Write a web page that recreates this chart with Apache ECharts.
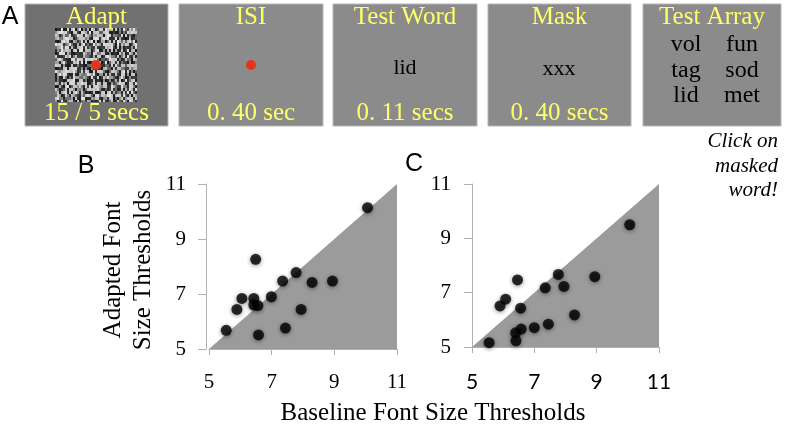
<!DOCTYPE html>
<html>
<head>
<meta charset="utf-8">
<script src="https://cdn.jsdelivr.net/npm/echarts@6/dist/echarts.min.js"></script>
<style>
html,body{margin:0;padding:0;background:#fff;}
#chart{width:790px;height:433px;}
</style>
</head>
<body>
<div id="chart"></div>
<script>
// ---- Data ----
var tickValues = [5, 7, 9, 11];
var baselineB = [10.06, 6.49, 7.78, 7.35, 8.29, 8.94, 6.05, 6.43, 6.99, 5.89, 6.43, 6.56, 7.94, 5.55, 7.44, 6.58];
var adaptedB  = [10.14, 8.26, 7.78, 7.47, 7.42, 7.47, 6.84, 6.84, 6.90, 6.44, 6.60, 6.58, 6.44, 5.68, 5.76, 5.51];
var baselineC = [10.06, 6.46, 7.77, 8.94, 7.35, 7.95, 6.08, 5.90, 6.56, 8.29, 7.45, 7.00, 6.58, 6.40, 6.41, 5.55];
var adaptedC  = [9.50, 7.47, 7.67, 7.59, 7.18, 7.23, 6.76, 6.51, 6.43, 6.18, 5.84, 5.71, 5.66, 5.52, 5.23, 5.16];
var diagonal = [[5, 5], [11, 11]];
var panelTitles = ['Adapt', 'ISI', 'Test Word', 'Mask', 'Test Array'];
var panelTimes = ['15 / 5 secs', '0. 40 sec', '0. 11 secs', '0. 40 secs', ''];
var arrayWords = [['vol', 'fun'], ['tag', 'sod'], ['lid', 'met']];

function pairs(xs, ys) { return xs.map(function (x, i) { return [x, ys[i]]; }); }

// ---- noise texture (decoration only) ----
function makeNoise(w, h) {
  var c = document.createElement('canvas');
  c.width = w; c.height = h;
  var ctx = c.getContext('2d');
  for (var j = 0; j < h; j += 3) {
    for (var i = 0; i < w; i += 2) {
      var n = Math.imul(i * 73856093 ^ j * 19349663, 0x5bd1e995);
      n = (n ^ (n >>> 15)) >>> 0;
      var v = n % 100;
      var g = v < 38 ? 25 + (v % 5) * 10 : (v < 70 ? 225 - (v % 5) * 8 : 100 + (v % 9) * 12);
      ctx.fillStyle = 'rgb(' + g + ',' + g + ',' + g + ')';
      ctx.fillRect(i, j, 2, 3);
    }
  }
  return c.toDataURL();
}

var serif = '"Liberation Serif", "Times New Roman", serif';
var sans = '"Liberation Sans", Arial, sans-serif';
var yellow = '#ffff66';

function txt(x, y, s, size, opts) {
  opts = opts || {};
  return {
    type: 'text', x: x, y: y, rotation: opts.rotation || 0, z: 10,
    style: {
      text: s, fill: opts.color || '#000',
      fontSize: size, fontFamily: opts.family || serif, fontStyle: opts.style || 'normal',
      align: opts.align || 'center', textAlign: opts.align || 'center',
      verticalAlign: 'middle', textVerticalAlign: 'middle',
      lineHeight: opts.lineHeight || size * 1.2
    }
  };
}

var boxX = [25, 179, 333, 488, 643];
var boxW = [143, 144, 144, 143, 138];
var graphics = [];
boxX.forEach(function (x, k) {
  graphics.push({
    type: 'rect', shape: { x: x, y: 4, width: boxW[k], height: 122 }, z: 1,
    style: { fill: k === 0 ? '#717171' : '#8b8b8b', stroke: '#b5b5b5', lineWidth: 1 }
  });
  var cx = x + boxW[k] / 2;
  graphics.push(txt(cx, 17, panelTitles[k], 25, { color: yellow }));
  if (panelTimes[k]) graphics.push(txt(cx, 113, panelTimes[k], 25, { color: yellow }));
});
graphics.push({ type: 'image', x: 55, y: 28, z: 2, style: { image: makeNoise(82, 74), x: 0, y: 0, width: 82, height: 74 } });
graphics.push({ type: 'circle', shape: { cx: 96, cy: 65, r: 5 }, z: 3, style: { fill: '#e2361a' } });
graphics.push({ type: 'circle', shape: { cx: 251, cy: 65, r: 5 }, z: 3, style: { fill: '#e2361a' } });
graphics.push(txt(405, 68, 'lid', 22));
graphics.push(txt(559, 69, 'xxx', 22));
arrayWords.forEach(function (row, r) {
  graphics.push(txt(686, 45 + r * 25.5, row[0], 24));
  graphics.push(txt(742, 45 + r * 25.5, row[1], 24));
});
graphics.push(txt(778, 141, 'Click on', 21, { align: 'right', style: 'italic' }));
graphics.push(txt(778, 166, 'masked', 21, { align: 'right', style: 'italic' }));
graphics.push(txt(778, 190, 'word!', 21, { align: 'right', style: 'italic' }));
graphics.push(txt(10, 17, 'A', 25, { family: sans }));
graphics.push(txt(86, 166, 'B', 25, { family: sans }));
graphics.push(txt(414, 164, 'C', 25, { family: sans }));
graphics.push(txt(433, 413, 'Baseline Font Size Thresholds', 25));
graphics.push(txt(128, 270, 'Adapted Font\nSize Thresholds', 25, { rotation: Math.PI / 2, lineHeight: 30 }));

function fmt(v) { return tickValues.indexOf(v) >= 0 ? String(v) : ''; }
function xAxis(idx, family, size, margin) {
  return {
    type: 'value', gridIndex: idx, min: 5, max: 11, interval: 2,
    axisLine: { show: true, lineStyle: { color: '#b0b0b0', width: 1 } },
    axisTick: { show: true, inside: false, length: 6, lineStyle: { color: '#b0b0b0' } },
    splitLine: { show: false },
    axisLabel: { fontSize: size, fontFamily: family, color: '#000', margin: margin, formatter: fmt }
  };
}
function yAxis(idx, margin, offset) {
  return {
    type: 'value', gridIndex: idx, min: 5, max: 11, interval: 2, offset: offset,
    axisLine: { show: true, lineStyle: { color: '#b0b0b0', width: 1 } },
    axisTick: { show: true, inside: false, length: 8, lineStyle: { color: '#b0b0b0' } },
    splitLine: { show: false },
    axisLabel: { fontSize: 21, fontFamily: serif, color: '#000', margin: margin, formatter: fmt }
  };
}
function areaSeries(idx) {
  return {
    type: 'line', xAxisIndex: idx, yAxisIndex: idx, data: diagonal,
    symbol: 'none', silent: true, z: 1,
    lineStyle: { width: 0, color: '#9b9b9b' },
    areaStyle: { color: '#9b9b9b', opacity: 1, origin: 'start' }
  };
}
function dots(idx, data) {
  return {
    type: 'scatter', xAxisIndex: idx, yAxisIndex: idx, data: data,
    symbolSize: 11, z: 5,
    itemStyle: { color: '#000', shadowBlur: 4, shadowColor: 'rgba(0,0,0,0.55)', shadowOffsetY: 1 }
  };
}

var chart = echarts.init(document.getElementById('chart'), null, { renderer: 'canvas' });
chart.setOption({
  animation: false,
  backgroundColor: '#fff',
  grid: [
    { left: 209, top: 184, width: 188, height: 165 },
    { left: 472, top: 184, width: 187, height: 163 }
  ],
  xAxis: [xAxis(0, serif, 21, 23), xAxis(1, '"Lato", "Open Sans", sans-serif', 21, 25)],
  yAxis: [yAxis(0, 20, 3), yAxis(1, 21, 0)],
  series: [
    areaSeries(0), areaSeries(1),
    dots(0, pairs(baselineB, adaptedB)),
    dots(1, pairs(baselineC, adaptedC))
  ],
  graphic: graphics
});
</script>
</body>
</html>
